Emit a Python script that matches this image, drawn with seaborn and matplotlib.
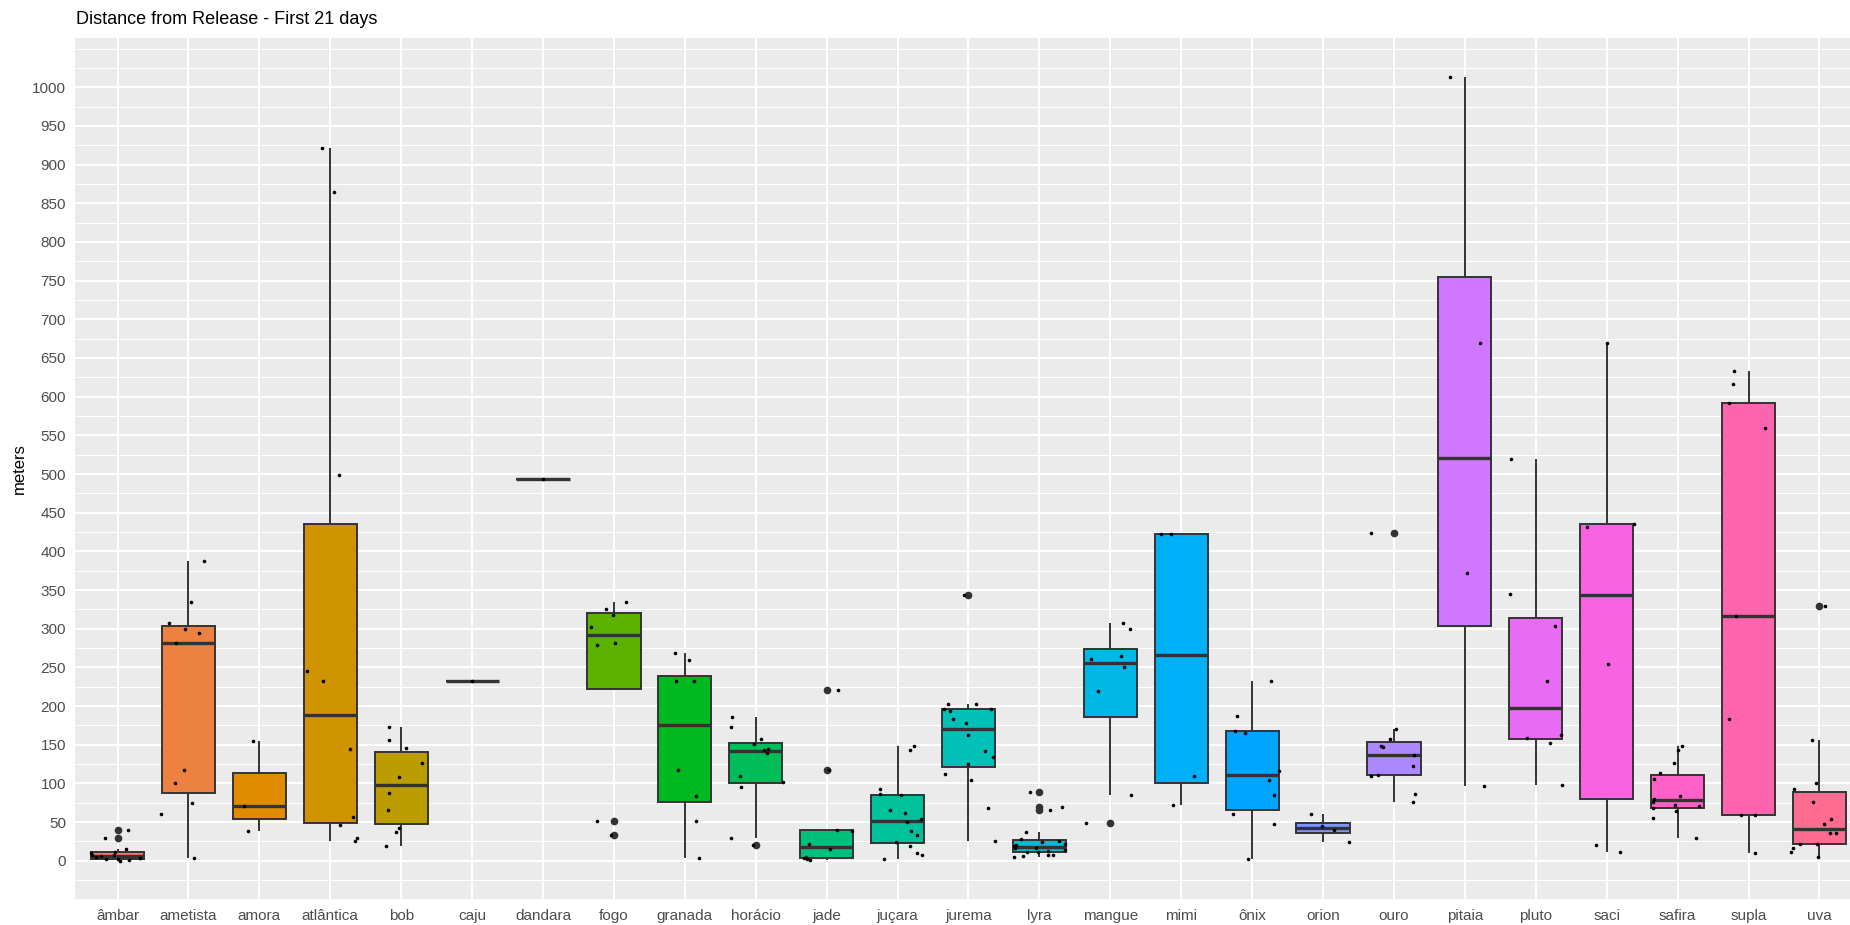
import numpy as np
import pandas as pd
import seaborn as sns
import matplotlib.pyplot as plt

# distances (m) per animal
animals = ["âmbar", "ametista", "amora", "atlântica", "bob", "caju", "dandara",
           "fogo", "granada", "horácio", "jade", "juçara", "jurema", "lyra",
           "mangue", "mimi", "ônix", "orion", "ouro", "pitaia", "pluto", "saci",
           "safira", "supla", "uva"]

ambar = [0, 1, 2, 2, 3, 4, 5, 6, 7, 8, 10, 12, 15, 30, 40]
ametista = [3, 60, 75, 100, 118, 282, 295, 300, 308, 334, 388]
amora = [38, 71, 155]
atlantica = [25, 29, 46, 57, 145, 232, 245, 499, 864, 921]
bob = [19, 37, 42, 66, 88, 108, 127, 146, 156, 173]
caju = [233]
dandara = [493]
fogo = [33, 52, 279, 282, 302, 318, 325, 335]
granada = [4, 51, 84, 118, 232, 232, 260, 268]
horacio = [21, 30, 96, 102, 109, 140, 143, 145, 151, 158, 173, 186]
jade = [1, 2, 3, 5, 15, 22, 38, 40, 118, 221]
jucara = [2, 7, 10, 19, 24, 33, 38, 50, 54, 62, 66, 85, 86, 93, 143, 148]
jurema = [26, 68, 104, 112, 125, 134, 142, 162, 178, 183, 194, 196, 196, 203, 203, 344]
lyra = [5, 6, 7, 8, 11, 12, 13, 14, 16, 17, 19, 20, 22, 24, 26, 28, 37, 66, 70, 89]
mangue = [49, 85, 220, 250, 261, 265, 300, 307]
mimi = [72, 110, 423, 423]
onix = [2, 47, 60, 85, 105, 116, 165, 168, 187, 232]
orion = [24, 40, 45, 60]
ouro = [76, 87, 110, 111, 122, 137, 147, 148, 158, 170, 424]
pitaia = [97, 372, 669, 1013]
pluto = [98, 152, 159, 162, 232, 304, 345, 520]
saci = [11, 21, 255, 432, 436, 669]
safira = [30, 55, 64, 68, 71, 72, 76, 80, 84, 106, 113, 127, 143, 149]
supla = [10, 59, 59, 183, 316, 560, 592, 617, 633]
uva = [5, 11, 16, 22, 22, 36, 36, 47, 54, 76, 93, 101, 156, 329]

values = [ambar, ametista, amora, atlantica, bob, caju, dandara, fogo, granada,
          horacio, jade, jucara, jurema, lyra, mangue, mimi, onix, orion, ouro,
          pitaia, pluto, saci, safira, supla, uva]

df = pd.DataFrame([(a, v) for a, vals in zip(animals, values) for v in vals],
                  columns=["animal", "meters"])


# ggplot-style hue palette (hcl with c=100, l=65)
def hcl_hex(h, c=100, l=65):
    hr = np.radians(h)
    u, v = c * np.cos(hr), c * np.sin(hr)
    Y = ((l + 16) / 116) ** 3
    xn, yn, zn = 0.95047, 1.0, 1.08883
    un = 4 * xn / (xn + 15 * yn + 3 * zn)
    vn = 9 * yn / (xn + 15 * yn + 3 * zn)
    up = u / (13 * l) + un
    vp = v / (13 * l) + vn
    X = Y * 9 * up / (4 * vp)
    Z = Y * (12 - 3 * up - 20 * vp) / (4 * vp)
    M = np.array([[3.2404542, -1.5371385, -0.4985314],
                  [-0.9692660, 1.8760108, 0.0415560],
                  [0.0556434, -0.2040259, 1.0572252]])
    rgb = M @ np.array([X, Y, Z])
    rgb = np.where(rgb <= 0.0031308, 12.92 * rgb,
                   1.055 * np.abs(rgb) ** (1 / 2.4) - 0.055)
    rgb = np.clip(rgb, 0, 1)
    return "#%02x%02x%02x" % tuple(int(round(x * 255)) for x in rgb)


n = len(animals)
colors = [hcl_hex(15 + i * 360 / n) for i in range(n)]

sns.set_theme(style="darkgrid", rc={"axes.facecolor": "#EBEBEB",
                                    "grid.color": "white"})
plt.rcParams["font.family"] = ["Liberation Sans", "DejaVu Sans"]

fig = plt.figure(figsize=(18.5, 9.25), dpi=100)
ax = fig.add_axes([75 / 1850, 25 / 925, (1862 - 75) / 1850, (900 - 38) / 925])

sns.boxplot(data=df, x="animal", y="meters", hue="animal", order=animals,
            hue_order=animals, palette=colors, saturation=1, width=0.75,
            linecolor="#333333", linewidth=1.4, showcaps=False, fliersize=4.5,
            legend=False, whiskerprops={"zorder": 1.5},
            medianprops={"linewidth": 2.4},
            flierprops={"marker": "o", "markerfacecolor": "#333333",
                        "markeredgecolor": "#333333"},
            ax=ax)

np.random.seed(3)
sns.stripplot(data=df, x="animal", y="meters", order=animals, color="black",
              size=2.6, jitter=0.4, linewidth=0, zorder=3, ax=ax)

lo, hi = df["meters"].min(), df["meters"].max()
pad = 0.05 * (hi - lo)
ax.set_xlim(-0.6, n - 0.4)
ax.set_ylim(lo - pad, hi + pad)
ax.set_yticks(np.arange(0, 1001, 50))
ax.set_yticks(np.arange(-50, 1051, 25), minor=True)
ax.set_axisbelow(True)
ax.grid(which="major", color="white", linewidth=1.4)
ax.grid(which="minor", axis="y", color="white", linewidth=0.7)
ax.tick_params(which="minor", length=0)
ax.tick_params(which="major", length=3.5, width=0.8, color="#333333",
               labelcolor="#4D4D4D", labelsize=11, pad=3)
for s in ax.spines.values():
    s.set_visible(False)

ax.set_xlabel("")
ax.set_ylabel("meters", fontsize=12, color="black")
ax.yaxis.set_label_coords(-0.027, 0.5)

fig.text(76 / 1850, 1 - 20 / 925, "Distance from Release - First 21 days",
         fontsize=13, ha="left", va="center", color="black")

fig.savefig("out.png", dpi=100)
